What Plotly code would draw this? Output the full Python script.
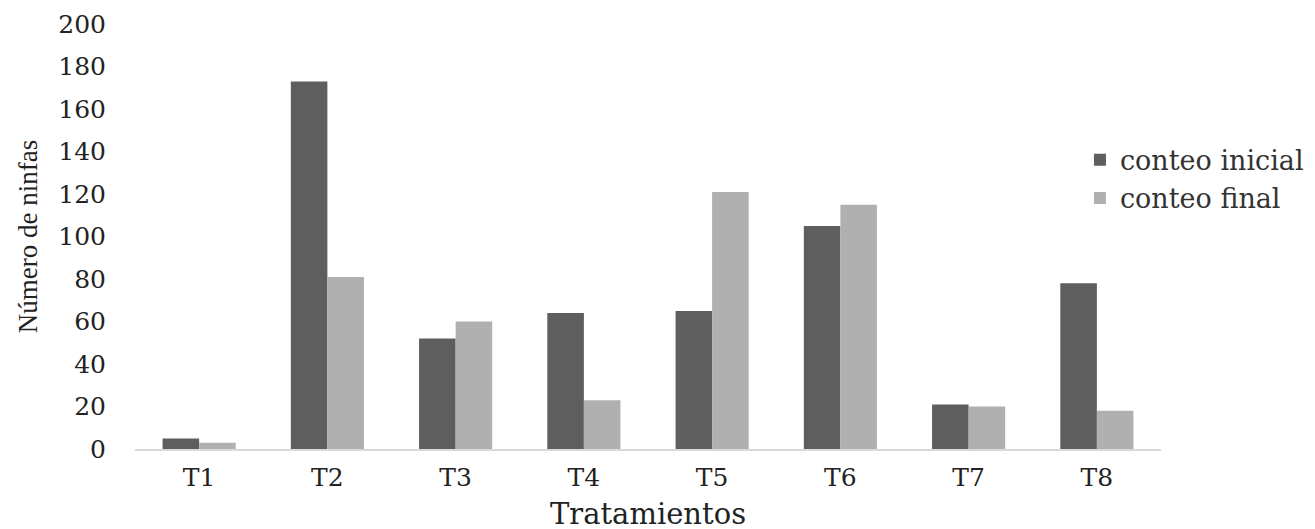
import plotly.graph_objects as go

categories = ["T1", "T2", "T3", "T4", "T5", "T6", "T7", "T8"]
conteo_inicial = [5, 173, 52, 64, 65, 105, 21, 78]
conteo_final = [3, 81, 60, 23, 121, 115, 20, 18]
y_ticks = [0, 20, 40, 60, 80, 100, 120, 140, 160, 180, 200]

fig = go.Figure()
fig.add_trace(go.Bar(x=categories, y=conteo_inicial, name="conteo inicial",
                     marker=dict(color="#5e5e5e", line=dict(width=0))))
fig.add_trace(go.Bar(x=categories, y=conteo_final, name="conteo final",
                     marker=dict(color="#b0b0b0", line=dict(width=0))))

fig.update_layout(
    width=1315, height=529,
    margin=dict(l=127, r=162, t=16, b=87.5, autoexpand=False),
    plot_bgcolor="white", paper_bgcolor="white",
    barmode="group", bargap=0.43, bargroupgap=0,
    font=dict(family="DejaVu Serif", color="#333333"),
    legend=dict(x=0.921, y=0.737, xanchor="left", yanchor="top",
                font=dict(family="DejaVu Serif", size=27, color="#333333"),
                bgcolor="rgba(0,0,0,0)"),
    xaxis=dict(
        showline=True, linecolor="#d9d9d9", linewidth=1.5,
        ticks="", showgrid=False, automargin=False,
        ticklabelstandoff=5,
        tickfont=dict(family="DejaVu Serif", size=25, color="#222222"),
        title=dict(text="Tratamientos", standoff=13,
                   font=dict(family="DejaVu Serif", size=29, color="#222222")),
    ),
    yaxis=dict(
        range=[0, 200], tickvals=y_ticks, showgrid=False, zeroline=False,
        showline=False, ticks="", automargin=False,
        tickfont=dict(family="DejaVu Serif", size=25, color="#222222"),
        ticklabelstandoff=28,
        title=dict(text="Número de ninfas", standoff=12,
                   font=dict(family="Liberation Serif", size=27, color="#222222")),
    ),
)

fig.write_html("out.html")
